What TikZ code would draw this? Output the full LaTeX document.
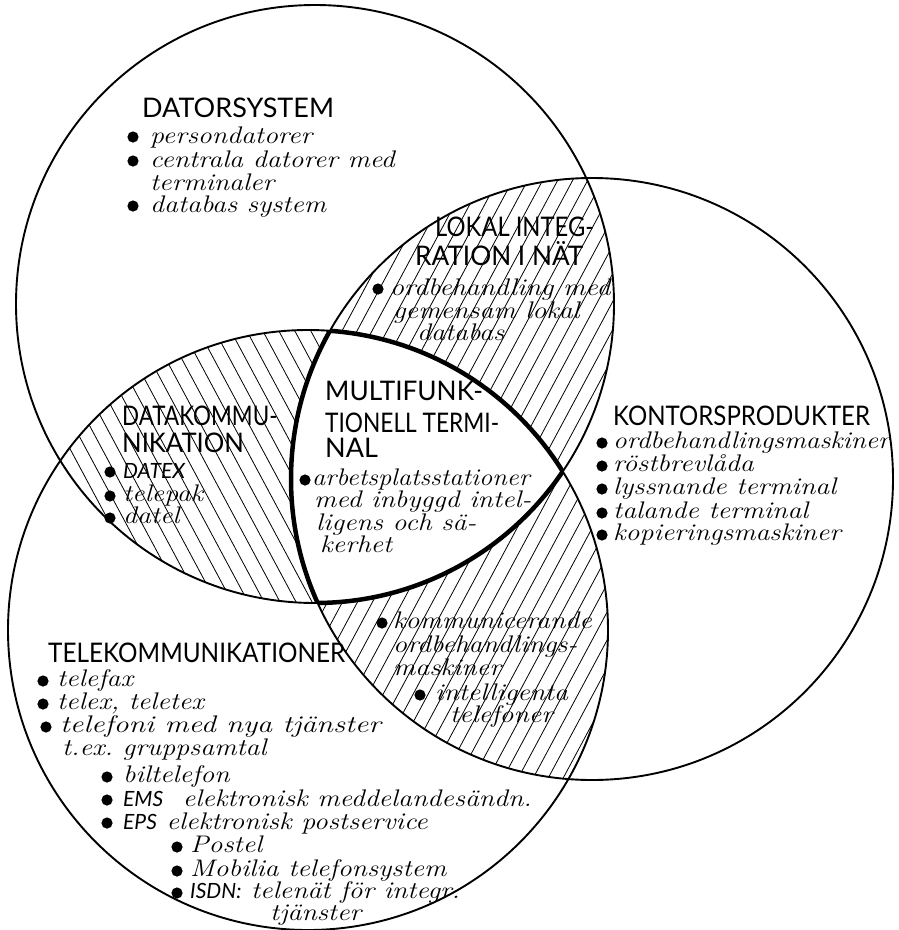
\documentclass[tikz,border=0pt]{standalone}
\usepackage{graphicx}
\usepackage{fontspec}
\setmainfont{Latin Modern Roman}
\newfontfamily\headfont{Lato}
\newfontfamily\handfont[FakeStretch=1.16]{Latin Modern Roman}
\newcommand\capsf{\headfont\itshape\fontsize{21}{21}\selectfont}
\newcommand\hs[2]{\scalebox{#1}[1]{#2}}
\begin{document}
\begin{tikzpicture}[x=1pt,y=-1pt,
  ring/.style={line width=1.9pt},
  core/.style={line width=4.5pt},
  hatch/.style={line width=0.8pt},
  head/.style={font=\headfont\fontsize{27}{27}\selectfont, inner sep=0pt, anchor=base west},
  item/.style={font=\handfont\itshape\fontsize{24}{24}\selectfont, inner sep=0pt, anchor=base west},
  caps/.style={font=\capsf, inner sep=0pt, anchor=base west},
  dot/.style={fill=black}]
\useasboundingbox (0,0) rectangle (898,930);
\fill[white] (0,0) rectangle (898,930);

% centres of the three sets
\coordinate (T) at (315,304);  % Datorsystem
\coordinate (R) at (592,479);  % Kontorsprodukter
\coordinate (L) at (308,630);  % Telekommunikationer
\def\rT{299}\def\rR{301}\def\rL{300}
\def\rd{5.6}

% Datorsystem and Telekommunikationer: back-slanted hatching
\begin{scope}
  \clip (T) circle (\rT);
  \clip (L) circle (\rL);
  \foreach \x in {-100,-84,...,800}
    \draw[hatch] (\x-150,460-280) -- (\x+150,460+280);
\end{scope}
% Datorsystem and Kontorsprodukter: forward-slanted hatching
\begin{scope}
  \clip (T) circle (\rT);
  \clip (R) circle (\rR);
  \foreach \x in {200,215,...,1000}
    \draw[hatch] (\x+150,400-280) -- (\x-150,400+280);
\end{scope}
% Kontorsprodukter and Telekommunikationer: forward-slanted hatching
\begin{scope}
  \clip (R) circle (\rR);
  \clip (L) circle (\rL);
  \foreach \x in {200,215,...,1000}
    \draw[hatch] (\x+150,560-280) -- (\x-150,560+280);
\end{scope}
% common part of all three stays blank
\begin{scope}
  \clip (T) circle (\rT);
  \clip (R) circle (\rR);
  \fill[white] (L) circle (\rL);
\end{scope}

% the three circles
\draw[ring] (T) circle (\rT);
\draw[ring] (R) circle (\rR);
\draw[ring] (L) circle (\rL);

% heavy outline of the common part
\begin{scope}
  \clip (R) circle (\rR); \clip (L) circle (\rL);
  \draw[core] (T) circle (\rT);
\end{scope}
\begin{scope}
  \clip (T) circle (\rT); \clip (L) circle (\rL);
  \draw[core] (R) circle (\rR);
\end{scope}
\begin{scope}
  \clip (T) circle (\rT); \clip (R) circle (\rR);
  \draw[core] (L) circle (\rL);
\end{scope}

% Datorsystem
\node[head] (dsH) at (142,117) {DATORSYSTEM};
\fill[dot] (133,137) circle (\rd);
\node[item] (ds1) at (150,143) {persondatorer};
\fill[dot] (133,161) circle (\rd);
\node[item] (ds2) at (150,167) {centrala datorer med};
\node[item] (ds3) at (150,190) {terminaler};
\fill[dot] (133,206) circle (\rd);
\node[item] (ds4) at (150,212) {databas system};

% Lokal integration
\node[head] (liH1) at (435,236) {\hs{0.88}{LOKAL INTEG-}};
\node[head] (liH2) at (415,265) {\hs{0.97}{RATION I NÄT}};
\fill[dot] (378,289) circle (\rd);
\node[item] (li1) at (390,295) {ordbehandling med};
\node[item] (li2) at (393,318) {gemensam lokal};
\node[item] (li3) at (417,340) {databas};

% Datakommunikation
\node[head] (dkH1) at (122,425) {\hs{0.83}{DATAKOMMU-}};
\node[head] (dkH2) at (122,452) {\hs{0.95}{NIKATION}};
\fill[dot] (110,472) circle (\rd);
\node[caps] (dk1) at (123,478) {DATEX};
\fill[dot] (110,496) circle (\rd);
\node[item] (dk2) at (123,501) {telepak};
\fill[dot] (110,518) circle (\rd);
\node[item] (dk3) at (123,523) {datel};

% Multifunktionell terminal
\node[head] (mfH1) at (325,400) {\hs{0.97}{MULTIFUNK-}};
\node[head] (mfH2) at (325,432) {\hs{0.84}{TIONELL TERMI-}};
\node[head] (mfH3) at (325,457) {NAL};
\fill[dot] (305,480) circle (\rd);
\node[item] (mf1) at (312,485) {\hs{0.95}{arbetsplatsstationer}};
\node[item] (mf2) at (314,507) {med inbyggd intel-};
\node[item] (mf3) at (316,530) {ligens och sä-};
\node[item] (mf4) at (320,552) {kerhet};

% Kontorsprodukter
\node[head] (kpH) at (613,425) {\hs{0.89}{KONTORSPRODUKTER}};
\fill[dot] (602,443) circle (\rd);
\node[item] (kp1) at (613,448) {\hs{0.98}{ordbehandlingsmaskiner}};
\fill[dot] (602,466) circle (\rd);
\node[item] (kp2) at (613,471) {röstbrevlåda};
\fill[dot] (602,489) circle (\rd);
\node[item] (kp3) at (613,494) {lyssnande terminal};
\fill[dot] (602,513) circle (\rd);
\node[item] (kp4) at (613,518) {talande terminal};
\fill[dot] (602,535) circle (\rd);
\node[item] (kp5) at (613,540) {kopieringsmaskiner};

% Kontorsprodukter and Telekommunikationer
\fill[dot] (382,623) circle (\rd);
\node[item] (kt1) at (393,628) {kommunicerande};
\node[item] (kt2) at (393,652) {ordbehandlings-};
\node[item] (kt3) at (393,675) {maskiner};
\fill[dot] (420,695) circle (\rd);
\node[item] (kt4) at (435,700) {intelligenta};
\node[item] (kt5) at (450,722) {telefoner};

% Telekommunikationer
\node[head] (tkH) at (48,662) {\hs{0.9}{TELEKOMMUNIKATIONER}};
\fill[dot] (43,681) circle (\rd);
\node[item] (tk1) at (57,686) {telefax};
\fill[dot] (43,704) circle (\rd);
\node[item] (tk2) at (57,709) {telex, teletex};
\fill[dot] (46,727) circle (\rd);
\node[item] (tk3) at (60,732) {\hs{1.08}{telefoni med nya tjänster}};
\node[item] (tk4) at (62,755) {t.ex.\ gruppsamtal};
\fill[dot] (107,777) circle (\rd);
\node[item] (tk5) at (123,782) {biltelefon};
\fill[dot] (107,800) circle (\rd);
\node[item] (tk6) at (123,806) {{\capsf EMS}\ \ elektronisk meddelandesändn.};
\fill[dot] (107,823) circle (\rd);
\node[item] (tk7) at (123,829) {{\capsf EPS}\ elektronisk postservice};
\fill[dot] (177,847) circle (\rd);
\node[item] (tk8) at (190,852) {Postel};
\fill[dot] (177,871) circle (\rd);
\node[item] (tk9) at (190,876) {Mobilia telefonsystem};
\fill[dot] (177,893) circle (\rd);
\node[item] (tk10) at (190,898) {{\capsf ISDN:} telenät för integr.};
\node[item] (tk11) at (270,920) {tjänster};
\end{tikzpicture}
\end{document}
